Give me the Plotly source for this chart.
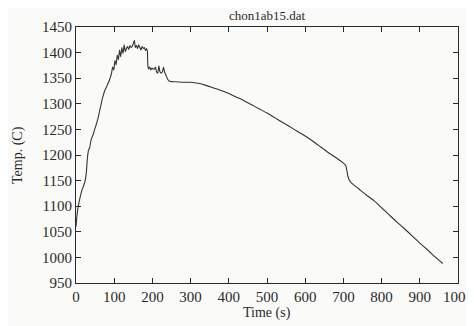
import plotly.graph_objects as go

title_text = "chon1ab15.dat"
x_label = "Time (s)"
y_label = "Temp. (C)"

time_s = [0, 3, 6, 10, 15, 20, 24, 27, 30, 33, 36, 39, 42, 45, 48, 51, 54, 57, 60, 63,
          66, 69, 72, 75, 78, 81, 84, 87, 90, 93, 96, 99, 102, 105, 108, 111, 114, 117,
          120, 123, 126, 129, 132, 135, 138, 141, 144, 147, 150, 153, 155, 158, 161, 164,
          167, 170, 173, 176, 179, 182, 185, 187, 188, 190, 193, 196, 199, 202, 205, 208,
          211, 214, 217, 220, 223, 226, 229, 232, 236, 240, 245, 260, 280, 300, 320, 340,
          360, 380, 400, 420, 440, 460, 480, 500, 520, 540, 560, 580, 600, 620, 640, 660,
          680, 700, 706, 709, 712, 716, 720, 740, 760, 780, 800, 820, 840, 860, 880, 900,
          920, 940, 960]
temp_c = [1060, 1085, 1100, 1115, 1130, 1140, 1150, 1165, 1195, 1210, 1215, 1228, 1235,
          1240, 1248, 1255, 1262, 1270, 1280, 1290, 1300, 1310, 1318, 1325, 1330, 1335,
          1340, 1345, 1352, 1360, 1372, 1366, 1385, 1376, 1395, 1386, 1405, 1392, 1410,
          1398, 1415, 1402, 1408, 1412, 1406, 1414, 1410, 1412, 1418, 1424, 1410, 1414,
          1408, 1415, 1410, 1405, 1412, 1408, 1410, 1404, 1408, 1402, 1375, 1368, 1372,
          1366, 1370, 1368, 1368, 1372, 1362, 1360, 1374, 1362, 1360, 1362, 1372, 1362,
          1355, 1348, 1344, 1343, 1342, 1342, 1340, 1336, 1331, 1326, 1320, 1313, 1306,
          1298, 1290, 1282, 1273, 1264, 1255, 1246, 1237, 1227, 1216, 1205, 1195, 1184,
          1180, 1170, 1158, 1150, 1146, 1134, 1122, 1111, 1097, 1083, 1069, 1056, 1042,
          1028, 1015, 1001, 988]

x_ticks = [0, 100, 200, 300, 400, 500, 600, 700, 800, 900, 1000]
y_ticks = [950, 1000, 1050, 1100, 1150, 1200, 1250, 1300, 1350, 1400, 1450]

font_family = "Liberation Serif, DejaVu Serif, serif"
ink = "#2a2a2a"

fig = go.Figure()
fig.add_trace(go.Scatter(x=time_s, y=temp_c, mode="lines", line_shape="spline",
                         line=dict(color="#333333", width=1.1, smoothing=0.4),
                         showlegend=False))

axis_common = dict(showgrid=False, zeroline=False, showline=True, linecolor=ink,
                   linewidth=1, mirror="ticks", ticks="inside", ticklen=5,
                   tickcolor=ink, automargin=False,
                   tickfont=dict(family=font_family, size=15, color=ink))

# page body adds an 8px offset, so the figure is 8px smaller than the window
fig.update_layout(
    width=466, height=318,
    margin=dict(l=68, r=16, t=19, b=43),
    paper_bgcolor="#fafaf8", plot_bgcolor="#fafaf8",
    xaxis=dict(range=[0, 1000], tickvals=x_ticks, **axis_common),
    yaxis=dict(range=[950, 1450], tickvals=y_ticks, **axis_common),
    annotations=[
        dict(text=title_text, xref="paper", yref="paper", x=0.5, y=1.0, yshift=2,
             xanchor="center", yanchor="bottom", showarrow=False,
             font=dict(family=font_family, size=13, color=ink)),
        dict(text=x_label, xref="paper", yref="paper", x=0.5, y=0, yshift=-30,
             xanchor="center", yanchor="middle", showarrow=False,
             font=dict(family=font_family, size=14, color=ink)),
        dict(text=y_label, xref="paper", yref="paper", x=0, y=0.5, xshift=-58,
             xanchor="center", yanchor="middle", textangle=-90, showarrow=False,
             font=dict(family=font_family, size=14, color=ink)),
    ],
)

fig.write_html("out.html")
